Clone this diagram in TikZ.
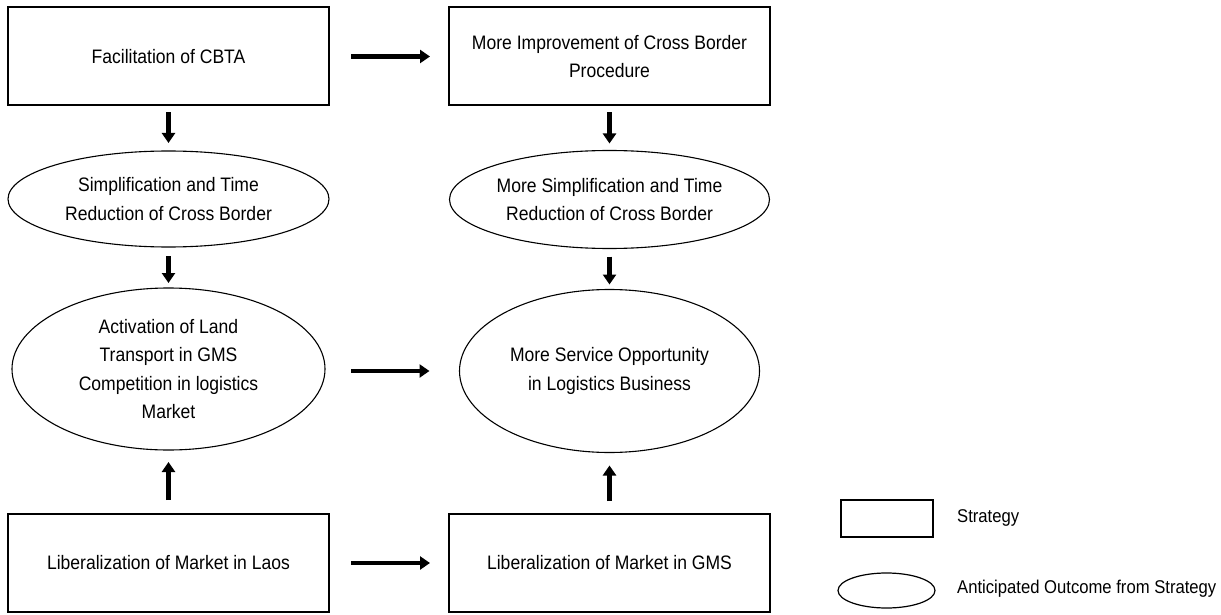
\documentclass[tikz,border=0pt]{standalone}
\usepackage{fontspec}
\setmainfont{Liberation Sans}[FakeStretch=0.9]
\usetikzlibrary{shapes.geometric,arrows.meta}
\newcommand\mainfnt{\fontsize{19.5}{28.5}\selectfont}
\newcommand\keyfnt{\fontsize{18.5}{22}\selectfont}
\begin{document}
\begin{tikzpicture}[x=1pt,y=-1pt,
  strategy/.style={draw,line width=2pt,rectangle,inner sep=0pt,outer sep=0pt,
    minimum width=321pt,minimum height=98pt,align=center,font=\mainfnt},
  outcome/.style={draw,line width=1.1pt,ellipse,inner sep=0pt,outer sep=0pt,
    align=center,font=\mainfnt},
  flow/.style={line width=4.5pt,-{Triangle[length=10pt,width=13pt]}},
  keybox/.style={draw,line width=1.2pt,rectangle,inner sep=0pt,outer sep=0pt,
    minimum width=92pt,minimum height=37pt},
  keyell/.style={draw,line width=1.2pt,ellipse,inner sep=0pt,outer sep=0pt,
    minimum width=97pt,minimum height=35pt},
  keytext/.style={anchor=west,inner sep=0pt,font=\keyfnt}
]
\useasboundingbox (0,0) rectangle (1221,615);

% left column
\node[strategy] (cbta) at (168.5,56.5) {Facilitation of CBTA};
\node[outcome,minimum width=321pt,minimum height=96pt] (simp) at (168.5,199)
  {Simplification and Time\\Reduction of Cross Border};
\node[outcome,minimum width=313pt,minimum height=162pt] (land) at (168.5,369)
  {Activation of Land\\Transport in GMS\\Competition in logistics\\Market};
\node[strategy] (laos) at (168.5,563) {Liberalization of Market in Laos};

% right column
\node[strategy] (proc) at (609.5,56.5) {More Improvement of Cross Border\\Procedure};
\node[outcome,minimum width=320pt,minimum height=98pt] (msimp) at (609.5,199.5)
  {More Simplification and Time\\Reduction of Cross Border};
\node[outcome,minimum width=300pt,minimum height=163pt] (serv) at (609.5,371)
  {More Service Opportunity\\in Logistics Business};
\node[strategy] (gms) at (609.5,563) {Liberalization of Market in GMS};

% vertical flows
\draw[flow,shorten <=7pt,shorten >=8pt] (cbta.south) -- (simp.north);
\draw[flow,shorten <=9pt,shorten >=5pt] (simp.south) -- (land.north);
\draw[flow,shorten <=14pt,shorten >=12pt] (laos.north) -- (land.south);
\draw[flow,shorten <=7pt,shorten >=7pt] (proc.south) -- (msimp.north);
\draw[flow,shorten <=8pt,shorten >=5pt] (msimp.south) -- (serv.north);
\draw[flow,shorten <=13pt,shorten >=13pt] (gms.north) -- (serv.south);

% horizontal flows
\draw[flow,shorten <=22pt,shorten >=19pt] (cbta.east) -- (proc.west);
\draw[flow,shorten <=26pt,shorten >=30pt] (serv.west -| land.east) -- (serv.west);
\draw[flow,shorten <=22pt,shorten >=19pt] (laos.east) -- (gms.west);

% key
\node[keybox] (kstrat) at (887,518.5) {};
\node[keytext] (kstratlbl) at (957,518) {Strategy};
\node[keyell] (kout) at (886.5,590.5) {};
\node[keytext] (koutlbl) at (957,589) {Anticipated Outcome from Strategy};
\end{tikzpicture}
\end{document}
